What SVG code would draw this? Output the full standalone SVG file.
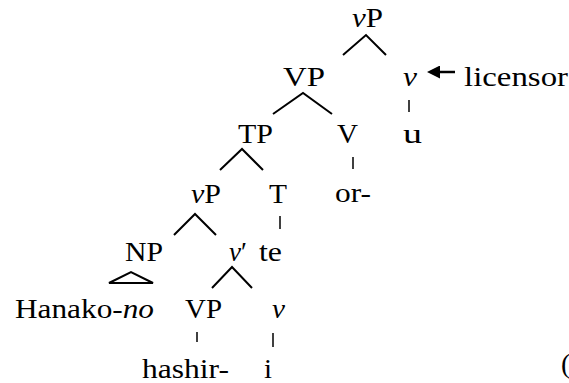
<svg xmlns="http://www.w3.org/2000/svg" width="569" height="383" viewBox="0 0 569 383">
<style>
text{font-family:'Liberation Serif',serif;font-size:28px;fill:#000}
.i{font-style:italic}
.e{stroke:#000;stroke-width:2;fill:none;stroke-linecap:butt}
.t{stroke:#000;stroke-width:1.5;fill:none}
</style>
<defs>
<marker id="ah" viewBox="0 0 10 10" refX="0" refY="5" markerWidth="13" markerHeight="13" markerUnits="userSpaceOnUse" orient="auto">
<path d="M0,0 L10,5 L0,10 Z" fill="#000"/>
</marker>
</defs>
<rect width="569" height="383" fill="#fff"/>
<g id="connectors">
<path class="e" d="M343,55 L366,35 L386,55"/>
<path class="e" d="M273,114 L303,93 L332,114"/>
<path class="t" d="M409,100 V112"/>
<path class="t" d="M353,157 V169"/>
<path class="e" d="M220,170 L242,149 L263,170"/>
<path class="t" d="M280,216 V229"/>
<path class="e" d="M174,235 L195,214 L216,235"/>
<path class="e" d="M109,283 L131,272 L153,283 Z"/>
<path class="e" d="M212,288 L232,267 L252,288"/>
<path class="t" d="M197,332 V342"/>
<path class="t" d="M273,333 V347"/>
<line x1="455" y1="72" x2="440" y2="72" stroke="#000" stroke-width="2.5" marker-end="url(#ah)"/>
</g>
<g id="n-vP-top"><text x="352" y="27" textLength="31" lengthAdjust="spacingAndGlyphs"><tspan class="i">v</tspan>P</text></g>
<g id="n-VP"><text x="283" y="86" textLength="42" lengthAdjust="spacingAndGlyphs">VP</text></g>
<g id="n-v-top"><text class="i" x="403" y="86" textLength="14" lengthAdjust="spacingAndGlyphs">v</text></g>
<g id="n-licensor"><text x="464" y="86" textLength="104" lengthAdjust="spacingAndGlyphs">licensor</text></g>
<g id="n-TP"><text x="238" y="143" textLength="35" lengthAdjust="spacingAndGlyphs">TP</text></g>
<g id="n-V"><text x="337" y="143" textLength="21" lengthAdjust="spacingAndGlyphs">V</text></g>
<g id="n-u"><text x="403" y="143" textLength="19" lengthAdjust="spacingAndGlyphs">u</text></g>
<g id="n-vP-mid"><text x="191" y="203" textLength="30" lengthAdjust="spacingAndGlyphs"><tspan class="i">v</tspan>P</text></g>
<g id="n-T"><text x="269" y="203" textLength="18" lengthAdjust="spacingAndGlyphs">T</text></g>
<g id="n-or"><text x="335" y="202" textLength="36" lengthAdjust="spacingAndGlyphs">or-</text></g>
<g id="n-NP"><text x="125" y="261" textLength="38" lengthAdjust="spacingAndGlyphs">NP</text></g>
<g id="n-vbar"><text x="229" y="261" textLength="18" lengthAdjust="spacingAndGlyphs"><tspan class="i">v</tspan>′</text></g>
<g id="n-te"><text x="259" y="261" textLength="23" lengthAdjust="spacingAndGlyphs">te</text></g>
<g id="n-Hanako"><text x="15" y="318" textLength="139" lengthAdjust="spacingAndGlyphs">Hanako-<tspan class="i">no</tspan></text></g>
<g id="n-VP-low"><text x="185" y="318" textLength="37" lengthAdjust="spacingAndGlyphs">VP</text></g>
<g id="n-v-low"><text class="i" x="272" y="318" textLength="13" lengthAdjust="spacingAndGlyphs">v</text></g>
<g id="n-hashir"><text x="142" y="378" textLength="87" lengthAdjust="spacingAndGlyphs">hashir-</text></g>
<g id="n-i"><text x="264" y="378" textLength="8" lengthAdjust="spacingAndGlyphs">i</text></g>
<g id="n-paren"><text x="561" y="373">(</text></g>
</svg>
